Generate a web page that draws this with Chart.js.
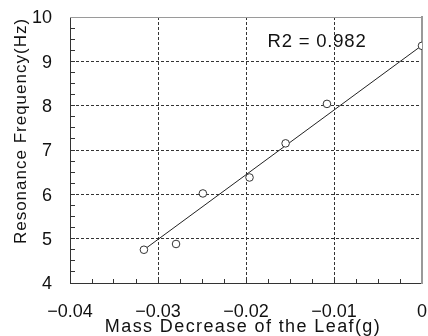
<!DOCTYPE html>
<html><head><meta charset="utf-8">
<script src="https://cdn.jsdelivr.net/npm/chart.js@4/dist/chart.umd.min.js"></script>
<style>html,body{margin:0;padding:0;background:#fff;}canvas{display:block;}</style>
</head><body>
<canvas id="c" width="428" height="336"></canvas>
<script>
const massDecrease = [-0.0316, -0.02795, -0.0249, -0.0196, -0.0155, -0.0108, 0.0];
const frequency    = [4.75, 4.88, 6.02, 6.38, 7.15, 8.04, 9.35];
const trendX = [-0.0316, 0.0];
const trendY = [4.75, 9.36];
const xTickValues = [-0.04, -0.03, -0.02, -0.01, 0];
const xTickLabels = ['\u22120.04', '\u22120.03', '\u22120.02', '\u22120.01', '0'];
const yTickValues = [4, 5, 6, 7, 8, 9, 10];
const yTickLabels = ['4', '5', '6', '7', '8', '9', '10'];
const xTitle = 'Mass Decrease of the Leaf(g)';
const yTitle = 'Resonance Frequency(Hz)';
const r2Label = 'R2 = 0.982';

const FONT = '"Liberation Sans", Arial, sans-serif';
const TEXT = '#111';
const GRID = '#333';

function idxOf(arr, v) { return arr.findIndex(a => Math.abs(a - v) < 1e-9); }
function isInnerMajor(arr, v) {
  const i = idxOf(arr, v);
  return i > 0 && i < arr.length - 1;
}
function fixSize(prop, size) {
  return s => {
    s[prop] = size;
    s.paddingTop = 0; s.paddingBottom = 0; s.paddingLeft = 0; s.paddingRight = 0;
  };
}

const textPlugin = {
  id: 'texts',
  afterDraw(chart) {
    const {ctx, chartArea: ca} = chart;
    ctx.save();
    ctx.fillStyle = TEXT;
    ctx.textAlign = 'center';
    ctx.textBaseline = 'middle';
    // x title
    ctx.font = '18px ' + FONT;
    ctx.letterSpacing = '1.4px';
    ctx.fillText(xTitle, (ca.left + ca.right) / 2 - 3, ca.bottom + 44);
    // R2 annotation
    ctx.font = '18.5px ' + FONT;
    ctx.letterSpacing = '0.8px';
    ctx.fillText(r2Label, ca.left + 247, ca.top + 25);
    // y title
    ctx.font = '17px ' + FONT;
    ctx.letterSpacing = '1px';
    ctx.translate(21, (ca.top + ca.bottom) / 2 - 19);
    ctx.rotate(-Math.PI / 2);
    ctx.fillText(yTitle, 0, 0);
    ctx.restore();
  }
};

new Chart(document.getElementById('c'), {
  type: 'scatter',
  data: {
    datasets: [
      {
        data: massDecrease.map((x, i) => ({x: x, y: frequency[i]})),
        pointRadius: 3.8,
        pointBorderWidth: 1,
        pointBorderColor: '#333',
        pointBackgroundColor: '#fff',
        showLine: false
      },
      {
        data: trendX.map((x, i) => ({x: x, y: trendY[i]})),
        showLine: true,
        borderColor: '#222',
        borderWidth: 1,
        pointRadius: 0,
        fill: false
      }
    ]
  },
  options: {
    responsive: false,
    animation: false,
    devicePixelRatio: 1,
    layout: {padding: {top: 17, right: 6, left: 0, bottom: 0}},
    plugins: {legend: {display: false}, tooltip: {enabled: false}},
    scales: {
      x: {
        type: 'linear', position: 'bottom',
        min: -0.04, max: 0,
        afterFit: fixSize('height', 53),
        ticks: {
          stepSize: 0.0025, autoSkip: false, maxRotation: 0, minRotation: 0,
          padding: 22, color: TEXT, font: {family: FONT, size: 18},
          callback: v => { const i = idxOf(xTickValues, v); return i >= 0 ? xTickLabels[i] : ''; }
        },
        grid: {
          drawTicks: true, tickLength: -4, tickWidth: 1, tickColor: GRID,
          lineWidth: 1,
          color: c => isInnerMajor(xTickValues, c.tick.value) ? GRID : 'rgba(0,0,0,0)'
        },
        border: {display: true, color: '#333', width: 1, dash: [3, 2]}
      },
      y: {
        type: 'linear', position: 'left',
        min: 4, max: 10,
        afterFit: fixSize('width', 70),
        ticks: {
          stepSize: 0.25, autoSkip: false, padding: 23, labelOffset: 1.5,
          color: TEXT, font: {family: FONT, size: 18},
          callback: v => { const i = idxOf(yTickValues, v); return i >= 0 ? yTickLabels[i] : ''; }
        },
        grid: {
          drawTicks: true, tickLength: -5, tickWidth: 1, tickColor: GRID,
          lineWidth: 1,
          color: c => isInnerMajor(yTickValues, c.tick.value) ? GRID : 'rgba(0,0,0,0)'
        },
        border: {display: true, color: '#333', width: 1, dash: [3, 2]}
      },
      xTop: {
        type: 'linear', position: 'top', min: -0.04, max: 0,
        afterFit: fixSize('height', 0),
        ticks: {display: false},
        grid: {display: false, drawTicks: false},
        border: {display: true, color: '#9a9a9a', width: 1}
      },
      yRight: {
        type: 'linear', position: 'right', min: 4, max: 10,
        afterFit: fixSize('width', 0),
        ticks: {display: false},
        grid: {display: false, drawTicks: false},
        border: {display: true, color: '#999', width: 2}
      }
    }
  },
  plugins: [textPlugin]
});
</script>
</body></html>
